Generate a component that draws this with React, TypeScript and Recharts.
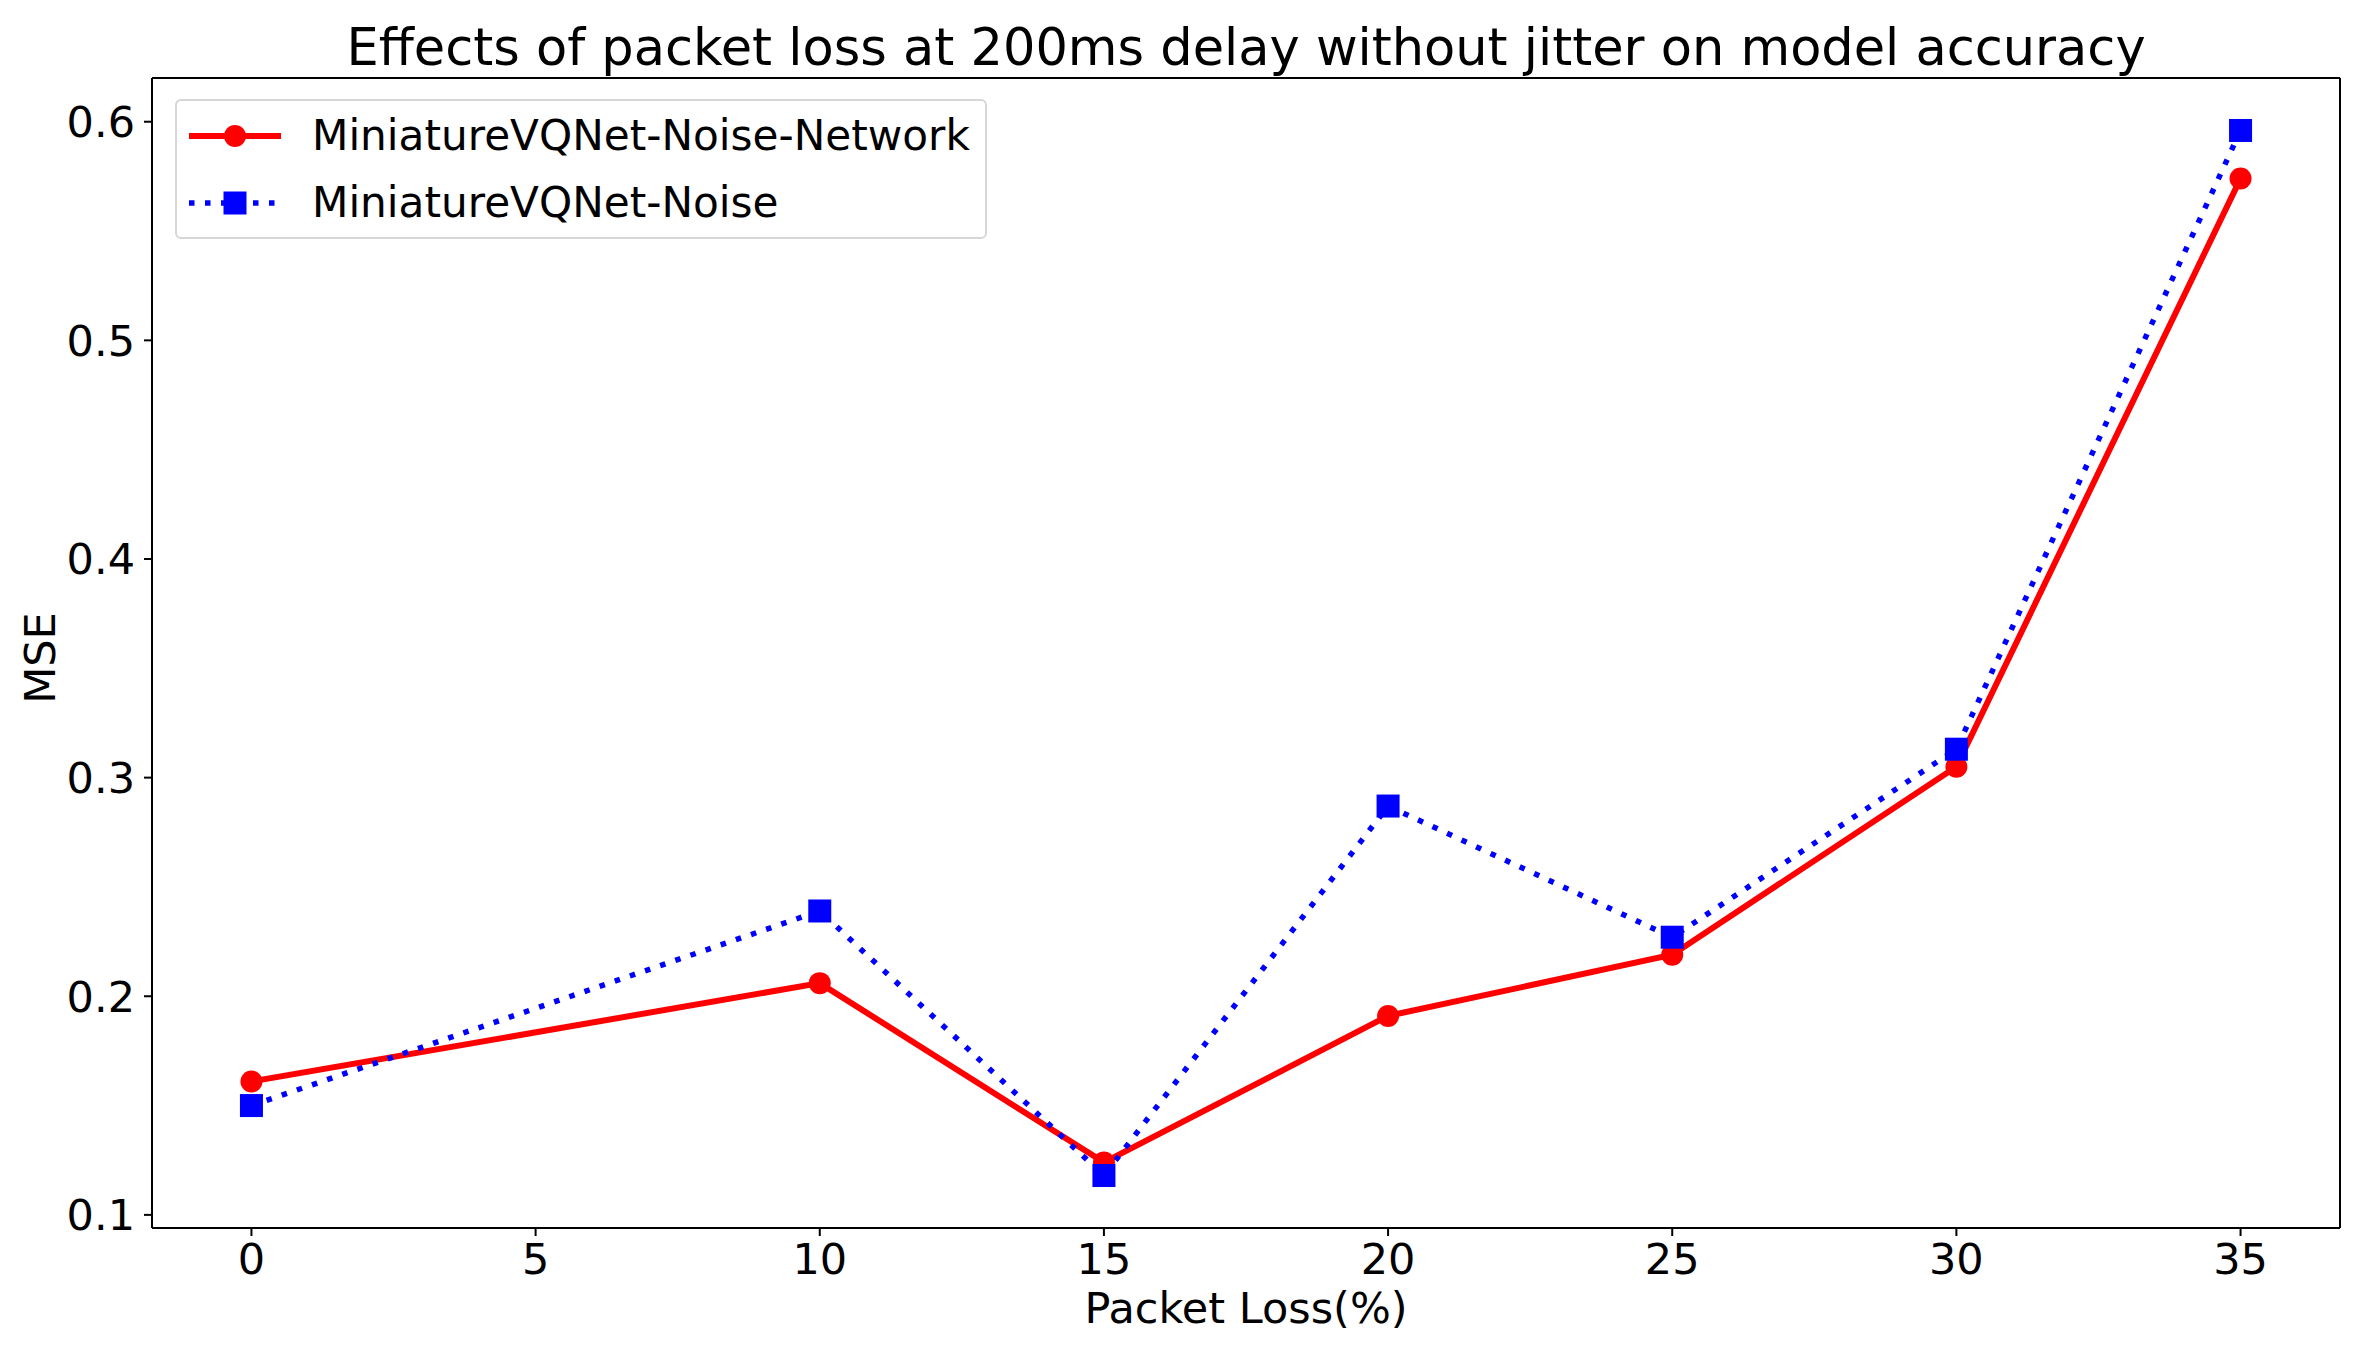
import { LineChart, Line, XAxis, YAxis, ReferenceLine } from 'recharts';

const packetLoss = [0, 10, 15, 20, 25, 30, 35];
const mseNoiseNetwork = [0.161, 0.206, 0.124, 0.191, 0.219, 0.305, 0.574];
const mseNoise = [0.15, 0.239, 0.118, 0.287, 0.227, 0.313, 0.596];
const xTicks = [0, 5, 10, 15, 20, 25, 30, 35];
const yTicks = [0.1, 0.2, 0.3, 0.4, 0.5, 0.6];
const seriesNames = ['MiniatureVQNet-Noise-Network', 'MiniatureVQNet-Noise'];

const FONT = '"DejaVu Sans", sans-serif';
const W = 2361;
const H = 1349;
const X_DOMAIN: [number, number] = [-1.75, 36.75];
const Y_DOMAIN: [number, number] = [0.094, 0.62];

const data = packetLoss.map((x, i) => ({
  x,
  net: mseNoiseNetwork[i],
  noise: mseNoise[i],
}));

const tickStyle = { fontSize: 43, fill: '#000', fontFamily: FONT };

function RedDot(props: any) {
  const { cx, cy, index } = props;
  return <circle key={`r${index}`} cx={cx} cy={cy} r={11} fill="#ff0000" />;
}

function BlueSquare(props: any) {
  const { cx, cy, index } = props;
  return <rect key={`b${index}`} x={cx - 11.5} y={cy - 11.5} width={23} height={23} fill="#0000ff" />;
}

function LegendBox() {
  return (
    <div
      style={{
        position: 'absolute',
        left: 175,
        top: 99,
        width: 808,
        height: 136,
        border: '2px solid #d6d6d6',
        borderRadius: 6,
        background: 'rgba(255,255,255,0.8)',
        fontFamily: FONT,
        fontSize: 42.2,
        color: '#000',
      }}
    >
      <svg style={{ position: 'absolute', left: 0, top: 0 }} width={140} height={136}>
        <line x1={12} y1={35} x2={104} y2={35} stroke="#ff0000" strokeWidth={6} />
        <circle cx={58} cy={35} r={11} fill="#ff0000" />
        <line x1={12} y1={102} x2={104} y2={102} stroke="#0000ff" strokeWidth={5.5} strokeDasharray="5.5 10.5" />
        <rect x={46.5} y={90.5} width={23} height={23} fill="#0000ff" />
      </svg>
      <div style={{ position: 'absolute', left: 135, top: 9, lineHeight: '52px', whiteSpace: 'nowrap' }}>
        {seriesNames[0]}
      </div>
      <div style={{ position: 'absolute', left: 135, top: 76, lineHeight: '52px', whiteSpace: 'nowrap' }}>
        {seriesNames[1]}
      </div>
    </div>
  );
}

export default function App() {
  return (
    <div style={{ position: 'absolute', left: 0, top: 0, width: W, height: H, background: '#fff' }}>
      <div
        style={{
          position: 'absolute',
          left: 152,
          width: 2188,
          top: 18,
          textAlign: 'center',
          fontFamily: FONT,
          fontSize: 51,
          lineHeight: '60px',
          color: '#000',
          whiteSpace: 'nowrap',
        }}
      >
        Effects of packet loss at 200ms delay without jitter on model accuracy
      </div>
      <LineChart width={W} height={H} data={data} margin={{ top: 78, right: 21, left: 0, bottom: 0 }}>
        <XAxis
          type="number"
          dataKey="x"
          domain={X_DOMAIN}
          ticks={xTicks}
          height={121}
          tickSize={8}
          tickMargin={7}
          tick={tickStyle}
          stroke="#000"
          strokeWidth={2}
          allowDataOverflow
          label={{
            content: () => (
              <text x={1246} y={1323} textAnchor="middle" fontSize={43} fontFamily={FONT} fill="#000">
                Packet Loss(%)
              </text>
            ),
          }}
        />
        <YAxis
          type="number"
          domain={Y_DOMAIN}
          ticks={yTicks}
          width={152}
          tickSize={8}
          tickMargin={9}
          tick={tickStyle}
          stroke="#000"
          strokeWidth={2}
          allowDataOverflow
          label={{
            content: () => (
              <text
                x={55}
                y={658}
                transform="rotate(-90 55 658)"
                textAnchor="middle"
                fontSize={43}
                fontFamily={FONT}
                fill="#000"
              >
                MSE
              </text>
            ),
          }}
        />
        <ReferenceLine y={Y_DOMAIN[1]} stroke="#000" strokeWidth={2} ifOverflow="visible" />
        <ReferenceLine x={X_DOMAIN[1]} stroke="#000" strokeWidth={2} ifOverflow="visible" />
        <Line
          type="linear"
          dataKey="net"
          name={seriesNames[0]}
          stroke="#ff0000"
          strokeWidth={6}
          dot={RedDot}
          activeDot={false}
          isAnimationActive={false}
        />
        <Line
          type="linear"
          dataKey="noise"
          name={seriesNames[1]}
          stroke="#0000ff"
          strokeWidth={5.5}
          strokeDasharray="5.5 10.5"
          dot={BlueSquare}
          activeDot={false}
          isAnimationActive={false}
        />
      </LineChart>
      <LegendBox />
    </div>
  );
}
